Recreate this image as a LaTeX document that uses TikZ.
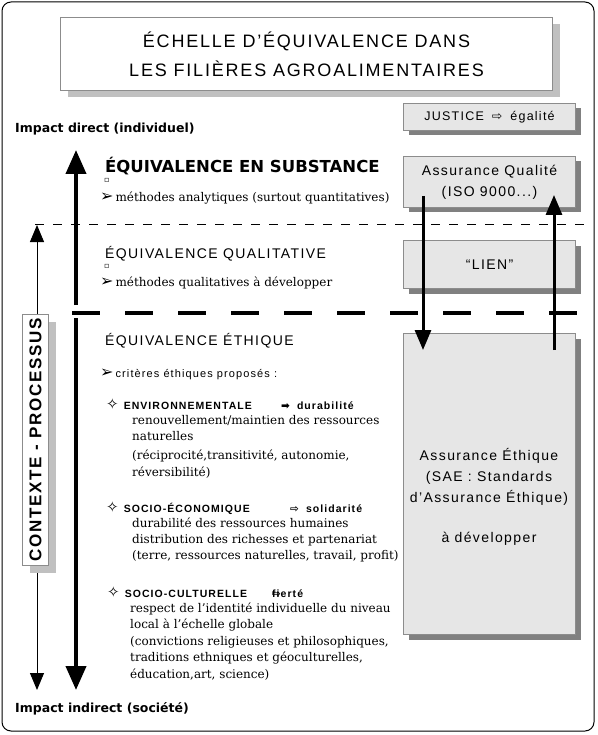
\documentclass[tikz,border=0pt]{standalone}
\usepackage{fontspec}
\setmainfont{Liberation Sans}[LetterSpace=10]
\newfontfamily\serifbody{DejaVu Serif}
\newfontfamily\glyphs{DejaVu Sans}
\usetikzlibrary{arrows.meta,shadows}
\definecolor{panelgray}{HTML}{E6E6E6}
\definecolor{edgegray}{HTML}{8C8C8C}
\definecolor{darkshade}{HTML}{808080}
\definecolor{lightshade}{HTML}{C0C0C0}
\newcommand{\boxsize}{\fontsize{14}{21}\selectfont}
\newcommand{\pointer}{{\glyphs\fontsize{16}{16}\selectfont ➢}\hspace{2pt}}
\newcommand{\sparkle}{{\glyphs\bfseries\fontsize{15}{15}\selectfont ✧}\hspace{5pt}}

\begin{document}
\begin{tikzpicture}[x=1pt,y=-1pt,
  panel/.style={draw=edgegray,fill=panelgray,line width=1pt,anchor=north west,inner sep=0pt,
    drop shadow={shadow xshift=5pt,shadow yshift=-5pt,fill=darkshade,opacity=1}},
  plaque/.style={draw=edgegray,fill=white,line width=1pt,anchor=north west,inner sep=0pt,
    drop shadow={shadow xshift=7pt,shadow yshift=-7pt,fill=lightshade,opacity=1}},
  txt/.style={anchor=base west,inner sep=0pt},
  impact/.style={txt,font=\glyphs\bfseries\fontsize{12.5}{15}\selectfont},
  subst/.style={txt,font=\glyphs\bfseries\fontsize{16.5}{18}\selectfont},
  level/.style={txt,font=\fontsize{14}{16}\selectfont},
  line/.style={txt,font=\serifbody\fontsize{12}{14}\selectfont},
  crit/.style={txt,font=\bfseries\fontsize{10.5}{12}\selectfont},
  bigarrow/.style={line width=4pt,-{Triangle[length=24pt,width=20pt]}},
  midarrow/.style={line width=3pt,-{Triangle[length=20pt,width=16pt]}},
  thinarrow/.style={line width=1pt,{Triangle[length=17pt,width=14pt]}-{Triangle[length=17pt,width=14pt]}}]

  \useasboundingbox (0,0) rectangle (597,735);
  \draw[line width=1pt,rounded corners=9pt] (2,2) rectangle (594,731);

  \node[plaque,minimum width=492pt,minimum height=73pt,align=center,font=\fontsize{18}{29}\selectfont]
    (title) at (60,17) {ÉCHELLE D’ÉQUIVALENCE DANS\\LES FILIÈRES AGROALIMENTAIRES};

  \node[panel,minimum width=172pt,minimum height=27pt,font=\fontsize{12.5}{14}\selectfont]
    (justice) at (403,103) {JUSTICE\hspace{8pt}{\glyphs ⇨}\hspace{8pt}égalité};
  \node[panel,minimum width=172pt,minimum height=51pt,align=center,font=\boxsize]
    (quality) at (403,156) {Assurance Qualité\\(ISO 9000...)};
  \node[panel,minimum width=172pt,minimum height=48pt,font=\boxsize]
    (link) at (403,240) {“LIEN”};
  \node[panel,minimum width=172pt,minimum height=301pt] (ethics) at (403,333) {};
  \node[align=center,font=\boxsize] (ethtext) at (489,497)
    {Assurance Éthique\\(SAE : Standards\\d’Assurance Éthique)\\[19pt]à développer};

  \node[impact] (direct) at (15,133) {Impact direct (individuel)};
  \node[impact] (indirect) at (15,712) {Impact indirect (société)};

  \coordinate (top) at (76,150);
  \coordinate (gapA) at (76,305);
  \coordinate (gapB) at (76,318);
  \coordinate (bottom) at (76,690);
  \draw[bigarrow] (gapA) -- (top);
  \draw[bigarrow] (gapB) -- (bottom);

  \coordinate (ctop) at (37,225);
  \coordinate (cbot) at (37,690);
  \draw[thinarrow] (ctop) -- (cbot);
  \node[plaque,minimum width=26pt,minimum height=251pt,font=\bfseries\fontsize{17}{17}\selectfont]
    (context) at (22,314) {\rotatebox{90}{CONTEXTE - PROCESSUS}};

  \coordinate (thinL) at (35,224);
  \coordinate (thinR) at (590,224);
  \draw[line width=1pt,dash pattern=on 9pt off 9pt] (thinL) -- (thinR);
  \coordinate (thickL) at (72,313);
  \coordinate (thickR) at (580,313);
  \draw[line width=3.5pt,dash pattern=on 28pt off 25pt] (thickL) -- (thickR);

  \coordinate (qdown) at (423,196);
  \coordinate (edown) at (423,350);
  \coordinate (eup) at (554,350);
  \coordinate (qup) at (554,195);
  \draw[midarrow] (qdown) -- (edown);
  \draw[midarrow] (eup) -- (qup);

  \node[subst] (substance) at (105,173) {ÉQUIVALENCE EN SUBSTANCE};
  \node[txt,font=\glyphs\fontsize{8}{8}\selectfont] (sq1) at (104,183) {▫};
  \node[line] (analytic) at (100,201) {\pointer méthodes analytiques (surtout quantitatives)};
  \node[level] (qualit) at (105,258) {ÉQUIVALENCE QUALITATIVE};
  \node[txt,font=\glyphs\fontsize{8}{8}\selectfont] (sq2) at (104,268) {▫};
  \node[line] (qualmeth) at (100,286) {\pointer méthodes qualitatives à développer};
  \node[level] (ethic) at (105,345) {ÉQUIVALENCE ÉTHIQUE};
  \node[txt,font=\fontsize{11}{12}\selectfont] (criteria) at (100,377) {\pointer critères éthiques proposés :};

  \node[crit] (env) at (106,409) {\sparkle ENVIRONNEMENTALE};
  \node[crit] (envgoal) at (281,409) {{\glyphs ➡}\hspace{7pt}durabilité};
  \foreach \y/\t [count=\i] in {424/{renouvellement/maintien des ressources},440/naturelles,
      459/{(réciprocité,transitivité, autonomie,},476/{réversibilité)}}
    \node[line] (env\i) at (132,\y) {\t};

  \node[crit] (eco) at (106,512) {\sparkle SOCIO-ÉCONOMIQUE};
  \node[crit] (ecogoal) at (290,512) {{\glyphs ⇨}\hspace{7pt}solidarité};
  \foreach \y/\t [count=\i] in {527/{durabilité des ressources humaines},
      543/{distribution des richesses et partenariat},559/{(terre, ressources naturelles, travail, profit)}}
    \node[line] (eco\i) at (132,\y) {\t};

  \node[crit] (cult) at (107,597) {\sparkle SOCIO-CULTURELLE};
  \node[crit] (cultgoal) at (272,597) {\rlap{\glyphs ⇨}fierté};
  \foreach \y/\t [count=\i] in {612/{respect de l’identité individuelle du niveau},628/{local à l’échelle globale},
      645/{(convictions religieuses et philosophiques,},661/{traditions ethniques et géoculturelles,},
      678/{éducation,art, science)}}
    \node[line] (cult\i) at (130,\y) {\t};
\end{tikzpicture}
\end{document}
